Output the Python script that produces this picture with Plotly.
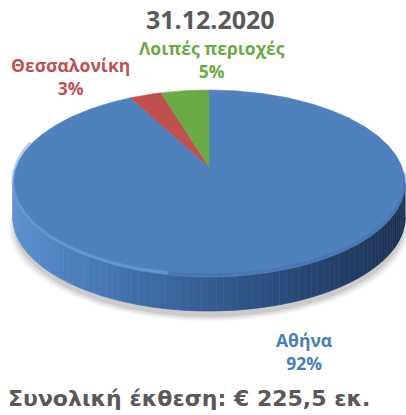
import numpy as np
import plotly.graph_objects as go

# ---- data ----
categories = ["Αθήνα", "Θεσσαλονίκη", "Λοιπές περιοχές"]
shares = [92.2, 3.1, 4.7]          # % of total exposure
colors = ["#4f81bd", "#c0504d", "#6aab45"]
label_colors = ["#4a7ebb", "#c0504d", "#6aab45"]
title_text = "31.12.2020"
total_exposure = "225,5"
footer_text = "Συνολική έκθεση: € " + total_exposure + " εκ."

# ---- geometry of the tilted (3D-like) pie, in pixel space ----
W, Hh = 406, 415
cx, cy0 = 209, 167
R, B, k = 193, 90.6, 0.176
DEPTH = 34


def rim(theta_deg):
    t = np.radians(theta_deg)
    u, v = np.sin(t), np.cos(t)
    w = 1 + k * v
    return cx + R * u / w, cy0 - B * v / w


fig = go.Figure()

# soft shadow
th = np.linspace(0, 360, 241)
sx, sy = rim(th)
for dy, grow, op in [(DEPTH + 10, 4, 0.05), (DEPTH + 8, 2, 0.07), (DEPTH + 6, 0, 0.09)]:
    xs = cx + (sx - cx) * (1 + grow / 196)
    ys = sy + dy
    fig.add_trace(go.Scatter(x=xs, y=ys, mode="lines", fill="toself",
                             fillcolor=f"rgba(0,0,0,{op})", line=dict(width=0),
                             hoverinfo="skip", showlegend=False))

# side band with gradient (front half only)
dense = np.linspace(0, 360, 3601)
dx, dyy = rim(dense)
i_right = int(np.argmax(dx))
i_left = int(np.argmin(dx))
a0, a1 = dense[i_right], dense[i_left]
stops = [(0.0, (90, 144, 208)), (0.3, (66, 112, 172)), (0.6, (46, 84, 134)), (1.0, (28, 50, 84))]


def side_color(xv):
    f = (xv - dx.min()) / (dx.max() - dx.min())
    f = min(max(f, 0), 1)
    for (f0, c0), (f1, c1) in zip(stops[:-1], stops[1:]):
        if f0 <= f <= f1:
            s = (f - f0) / (f1 - f0)
            c = [int(c0[j] + (c1[j] - c0[j]) * s) for j in range(3)]
            return f"rgb({c[0]},{c[1]},{c[2]})"
    return "rgb(28,50,84)"


edges = np.linspace(a0, a1, 91)
for t0, t1 in zip(edges[:-1], edges[1:]):
    tt = np.linspace(t0, t1, 4)
    px, py = rim(tt)
    xs = np.concatenate([px, px[::-1]])
    ys = np.concatenate([py, py[::-1] + DEPTH])
    col = side_color(px.mean())
    fig.add_trace(go.Scatter(x=xs, y=ys, mode="lines", fill="toself", fillcolor=col,
                             line=dict(width=0.8, color=col), hoverinfo="skip", showlegend=False))

# top face wedges (clockwise from 12 o'clock)
total = sum(shares)
start = 0.0
for name, val, col in zip(categories, shares, colors):
    span = 360.0 * val / total
    tt = np.linspace(start, start + span, max(int(span * 2), 3))
    px, py = rim(tt)
    xs = np.concatenate([[cx], px, [cx]])
    ys = np.concatenate([[cy0], py, [cy0]])
    fig.add_trace(go.Scatter(x=xs, y=ys, mode="lines", fill="toself", fillcolor=col,
                             line=dict(width=0.5, color=col), hoverinfo="skip", showlegend=False))
    start += span

# bevel highlight along front-left rim, darker toward the right
tt = np.linspace(190, 285, 60)
px, py = rim(tt)
fig.add_trace(go.Scatter(x=px, y=py - 2, mode="lines", line=dict(width=3, color="rgba(120,165,225,0.55)"),
                         hoverinfo="skip", showlegend=False))
tt = np.linspace(95, 190, 60)
px, py = rim(tt)
fig.add_trace(go.Scatter(x=px, y=py - 2, mode="lines", line=dict(width=3, color="rgba(60,100,160,0.35)"),
                         hoverinfo="skip", showlegend=False))

# ---- texts ----
FONT = "Open Sans"
pct = [f"{round(v / total * 100):.0f}%" for v in shares]
label_pos = [(304, 351), (70, 76), (212, 59)]
for name, p, lc, (lx, ly) in zip(categories, pct, label_colors, label_pos):
    fig.add_annotation(x=lx, y=ly, xref="x", yref="y", text=f"<b>{name}<br>{p}</b>",
                       showarrow=False, font=dict(family=FONT, size=17.5, color=lc), align="center",
                       borderpad=0)

fig.add_annotation(x=210, y=19, xref="x", yref="y", text=f"<b>{title_text}</b>", showarrow=False,
                   font=dict(family=FONT, size=25, color="#595959"), borderpad=0)
fig.add_annotation(x=6, y=398, xref="x", yref="y", text=f"<b>{footer_text}</b>", showarrow=False,
                   xanchor="left", font=dict(family="DejaVu Sans", size=22, color="#595959"))

fig.update_layout(
    width=W, height=Hh, margin=dict(l=0, r=0, t=0, b=0),
    paper_bgcolor="white", plot_bgcolor="white", showlegend=False,
    xaxis=dict(range=[0, W], visible=False, fixedrange=True),
    yaxis=dict(range=[Hh, 0], visible=False, fixedrange=True),
)
fig.write_html("out.html", config={"displayModeBar": False},
               post_script="document.body.style.margin='0';document.body.style.overflow='hidden';")
